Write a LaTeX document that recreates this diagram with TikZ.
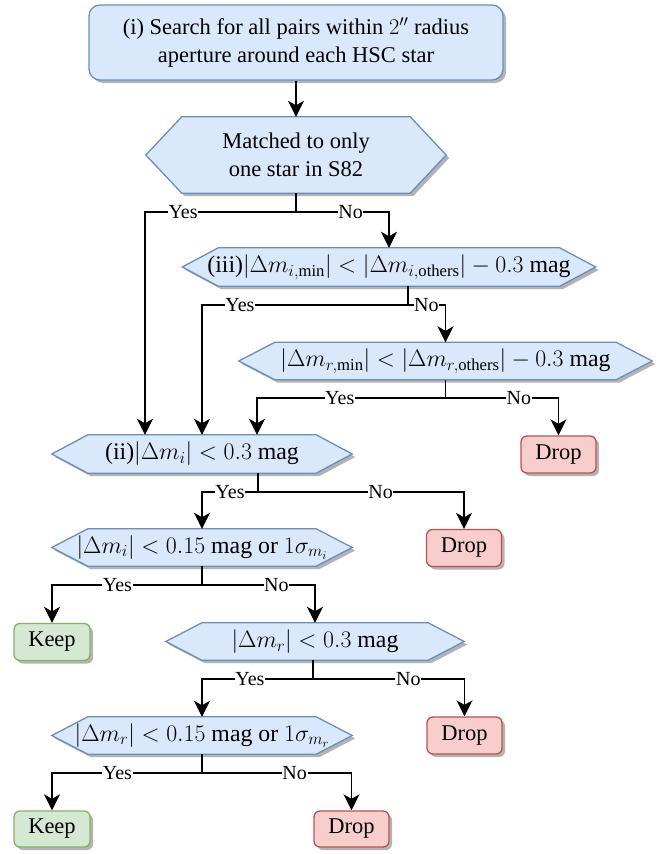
\RequirePackage{fix-cm}
\documentclass[tikz,border=0pt]{standalone}
\usepackage{fontspec}
\setmainfont{Liberation Serif}
\usetikzlibrary{calc,arrows.meta,shadows,backgrounds}
\definecolor{bfill}{HTML}{DAE8FC}
\definecolor{bline}{HTML}{6C8EBF}
\definecolor{gfill}{HTML}{D5E8D4}
\definecolor{gline}{HTML}{82B366}
\definecolor{rfill}{HTML}{F8CECC}
\definecolor{rline}{HTML}{B85450}
\definecolor{shd}{HTML}{B3B3B3}
\newcommand\hexpath[1]{(#1.west) -- ($(#1.north west)+(36,0)$) -- ($(#1.north east)+(-36,0)$) -- (#1.east) -- ($(#1.south east)+(-36,0)$) -- ($(#1.south west)+(36,0)$) -- cycle}
\tikzset{
  txt/.style={font=\rmfamily\fontsize{22.5}{28}\selectfont, align=center, inner sep=0pt},
  hexn/.style={txt, rectangle},
  mathn/.style={hexn, font=\rmfamily\fontsize{23.8}{28}\selectfont},
  box/.style={txt, rectangle, rounded corners=6pt, line width=1.3pt,
    drop shadow={shadow xshift=3pt, shadow yshift=-3pt, fill=shd, opacity=1}},
  topbox/.style={box, fill=bfill, draw=bline, rounded corners=11pt},
  keepbox/.style={box, fill=gfill, draw=gline, minimum width=76pt, minimum height=37pt},
  dropbox/.style={box, fill=rfill, draw=rline, minimum width=75pt, minimum height=37pt},
  conn/.style={line width=1.7pt},
  arr/.style={conn, -{Stealth[length=16pt,width=16pt,inset=4.5pt]}},
  lbl/.style={font=\rmfamily\fontsize{20}{22}\selectfont, fill=white, inner sep=0.6pt},
}
\begin{document}
\begin{tikzpicture}[x=1pt,y=-1pt]
\useasboundingbox (0,0) rectangle (671,854);

% nodes
\node[topbox, minimum width=414pt, minimum height=75pt] (top) at (296,42.5)
  {(i) Search for all pairs within $2''$ radius\\aperture around each HSC star};
\node[hexn, minimum width=300pt, minimum height=76pt] (h1) at (296,155)
  {Matched to only\\one star in S82};
\node[mathn, minimum width=413pt, minimum height=38pt] (h3) at (389,267)
  {(iii)$|\Delta m_{i,\mathrm{min}}| < |\Delta m_{i,\mathrm{others}}| - 0.3\ \mathrm{mag}$};
\node[mathn, minimum width=413pt, minimum height=37pt] (h4) at (445.5,361)
  {$|\Delta m_{r,\mathrm{min}}| < |\Delta m_{r,\mathrm{others}}| - 0.3\ \mathrm{mag}$};
\node[dropbox] (drop1) at (558.5,454.5) {Drop};
\node[mathn, minimum width=300pt, minimum height=38pt] (h2) at (202,454)
  {(ii)$|\Delta m_i| < 0.3\ \mathrm{mag}$};
\node[dropbox] (drop2) at (464,548) {Drop};
\node[mathn, minimum width=300pt, minimum height=37pt] (h5) at (202,547.5)
  {$|\Delta m_i| < 0.15\ \mathrm{mag\ or}\ 1\sigma_{m_i}$};
\node[keepbox] (keep1) at (52,642) {Keep};
\node[mathn, minimum width=298pt, minimum height=37pt] (h6) at (315,641.5)
  {$|\Delta m_r| < 0.3\ \mathrm{mag}$};
\node[dropbox] (drop3) at (464.5,735.5) {Drop};
\node[mathn, minimum width=300pt, minimum height=37pt] (h7) at (202,735.5)
  {$|\Delta m_r| < 0.15\ \mathrm{mag\ or}\ 1\sigma_{m_r}$};
\node[keepbox, minimum height=36pt] (keep2) at (52,829) {Keep};
\node[dropbox, minimum height=36pt] (drop4) at (351.5,829) {Drop};

% hexagon outlines
\begin{scope}[on background layer]
  \foreach \n in {h1,h2,h3,h4,h5,h6,h7} {
    \fill[shd, transform canvas={xshift=3pt,yshift=-3pt}] \hexpath{\n};
    \filldraw[fill=bfill, draw=bline, line width=1.3pt] \hexpath{\n};
  }
\end{scope}

% connectors
\draw[arr] (top.south) -- (h1.north);

\draw[conn] (h1.south) -- ++(0,19) coordinate (b1);
\coordinate (t1) at ($(h2.north)+(-57,0)$);
\draw[arr] (b1) -- node[lbl,pos=.748]{Yes} (b1 -| t1) -- (t1);
\draw[arr] (b1) -- node[lbl,pos=.587]{No} (b1 -| h3.north) -- (h3.north);

\draw[conn] ($(h3.south)+(19,0)$) -- ++(0,19) coordinate (b3);
\coordinate (t3) at ($(h2.north)+(0,0)$);
\draw[arr] (b3) -- node[lbl,pos=.816]{Yes} (b3 -| t3) -- (t3);
\draw[arr] (b3) -- node[lbl,pos=.49]{No} (b3 -| h4.north) -- (h4.north);

\draw[conn] (h4.south) -- ++(0,18.5) coordinate (b4);
\coordinate (t4) at ($(h2.north)+(55,0)$);
\draw[arr] (b4) -- node[lbl,pos=.561]{Yes} (b4 -| t4) -- (t4);
\draw[arr] (b4) -- node[lbl,pos=.649]{No} (b4 -| drop1.north) -- (drop1.north);

\draw[conn] ($(h2.south)+(56,0)$) -- ++(0,19) coordinate (b2);
\draw[arr] (b2) -- node[lbl,pos=.5]{Yes} (b2 -| h5.north) -- (h5.north);
\draw[arr] (b2) -- node[lbl,pos=.595]{No} (b2 -| drop2.north) -- (drop2.north);

\draw[conn] (h5.south) -- ++(0,19) coordinate (b5);
\draw[arr] (b5) -- node[lbl,pos=.564]{Yes} (b5 -| keep1.north) -- (keep1.north);
\draw[arr] (b5) -- node[lbl,pos=.658]{No} (b5 -| h6.north) -- (h6.north);

\draw[conn] ($(h6.south)+(-2,0)$) -- ++(0,19) coordinate (b6);
\draw[arr] (b6) -- node[lbl,pos=.568]{Yes} (b6 -| h7.north) -- (h7.north);
\draw[arr] (b6) -- node[lbl,pos=.629]{No} (b6 -| drop3.north) -- (drop3.north);

\draw[conn] (h7.south) -- ++(0,19) coordinate (b7);
\draw[arr] (b7) -- node[lbl,pos=.564]{Yes} (b7 -| keep2.north) -- (keep2.north);
\draw[arr] (b7) -- node[lbl,pos=.62]{No} (b7 -| drop4.north) -- (drop4.north);
\end{tikzpicture}
\end{document}
